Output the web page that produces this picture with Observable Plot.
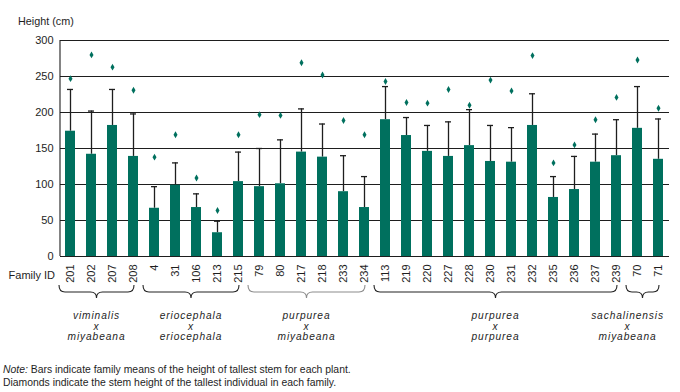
<!DOCTYPE html>
<html>
<head>
<meta charset="utf-8">
<script src="https://cdn.jsdelivr.net/npm/d3@7"></script>
<script src="https://cdn.jsdelivr.net/npm/@observablehq/plot@0.6"></script>
<style>
  html, body { margin: 0; padding: 0; background: #fff; }
  #chart { width: 680px; height: 392px; }
</style>
</head>
<body>
<div id="chart"></div>
<script>
const families = ["201","202","207","208","4","31","106","213","215","79","80","217","218","233","234","113","219","220","227","228","230","231","232","235","236","237","239","70","71"];
const means    = [174,142,182,139,67,99,68,33,104,97,101,145,138,90,68,190,168,146,139,154,132,131,182,82,93,131,140,178,135];
const errTop   = [232,202,232,198,97,130,87,49,145,150,162,205,184,140,111,236,193,182,187,204,182,179,226,111,139,170,190,236,191];
const tallest  = [247,280,263,231,138,169,109,64,169,197,196,269,252,189,169,243,214,213,232,210,245,230,279,130,155,190,221,273,206];
const yTicks = [0,50,100,150,200,250,300];

const groupLabels = [["viminalis","x","miyabeana"],["eriocephala","x","eriocephala"],["purpurea","x","miyabeana"],["purpurea","x","purpurea"],["sachalinensis","x","miyabeana"]];
const groupFirst = ["201","4","79","113","70"];
const groupLast  = ["208","215","234","239","71"];
const groupBraceColor = ["#222","#222","#8c8c8c","#222","#222"];

const yTitle = "Height (cm)";
const xTitle = "Family ID";
const noteItalic = "Note:";
const noteLine1 = " Bars indicate family means of the height of tallest stem for each plant.";
const noteLine2 = "Diamonds indicate the stem height of the tallest individual in each family.";

const rows = families.map((f, i) => ({family: f, mean: means[i], top: errTop[i], tallest: tallest[i]}));

const green = "#00705e";
const ink = "#1e1e1e";
const font = "'Liberation Sans', Arial, Helvetica, sans-serif";

const chart = Plot.plot({
  width: 680,
  height: 392,
  marginTop: 40,
  marginBottom: 136,
  marginLeft: 60,
  marginRight: 11,
  style: {fontFamily: font, fontSize: "11px", color: ink, background: "#fff"},
  x: {domain: families, paddingInner: 0.52, paddingOuter: 0.26, label: null},
  y: {domain: [0, 300], label: null},
  marks: [
    Plot.ruleY(yTicks, {stroke: ink, strokeWidth: 1.1}),
    Plot.ruleX(rows, {x: "family", y1: "mean", y2: "top", stroke: ink, strokeWidth: 1.3}),
    Plot.tickY(rows, {x: "family", y: "top", stroke: ink, strokeWidth: 1.3, insetLeft: 2, insetRight: 2}),
    Plot.barY(rows, {x: "family", y: "mean", fill: green}),
    Plot.dot(rows, {x: "family", y: "tallest", symbol: "diamond", r: 2.1, fill: green, stroke: "none"}),
    Plot.axisY({ticks: yTicks, tickSize: 0, tickPadding: 7, fontSize: 11, label: null}),
    Plot.axisX({tickSize: 0, tickPadding: 8, tickRotate: -90, fontSize: 11, label: null})
  ]
});

document.getElementById("chart").appendChild(chart);

const svg = d3.select(chart);
const xs = chart.scale("x");
const ys = chart.scale("y");
const bw = xs.bandwidth;
const xLeft = xs.range[0];
const yBottom = ys.apply(0);
const yTopV = ys.apply(300);

// left axis line
svg.append("line")
  .attr("x1", xLeft).attr("x2", xLeft)
  .attr("y1", yTopV).attr("y2", yBottom)
  .attr("stroke", ink).attr("stroke-width", 1.1);

// y title
svg.append("text").text(yTitle)
  .attr("x", 18).attr("y", 25).attr("text-anchor", "start")
  .attr("font-family", font).attr("font-size", 10.8).attr("fill", ink);

// x title
svg.append("text").text(xTitle)
  .attr("x", 55).attr("y", 279).attr("text-anchor", "end")
  .attr("font-family", font).attr("font-size", 11).attr("fill", ink);

// braces and group labels
const braceTop = yBottom + 29, braceMid = yBottom + 36, braceTip = yBottom + 42, r = 6;
groupFirst.forEach((f, gi) => {
  const x0 = xs.apply(f) - bw / 2 - 1;
  const x1 = xs.apply(groupLast[gi]) + bw / 2 + 1;
  const xm = (x0 + x1) / 2;
  const p = `M${x0},${braceTop} Q${x0},${braceMid} ${x0 + r},${braceMid} L${xm - r},${braceMid} Q${xm},${braceMid} ${xm},${braceTip} Q${xm},${braceMid} ${xm + r},${braceMid} L${x1 - r},${braceMid} Q${x1},${braceMid} ${x1},${braceTop}`;
  svg.append("path").attr("d", p).attr("fill", "none")
    .attr("stroke", groupBraceColor[gi]).attr("stroke-width", 1.1);
  const g = svg.append("g").attr("font-family", font).attr("font-size", 10.2)
    .attr("letter-spacing", "0.9px")
    .attr("font-style", "italic").attr("fill", ink).attr("text-anchor", "middle");
  const baselines = [319, 329.5, 340];
  groupLabels[gi].forEach((t, li) => {
    g.append("text").text(t).attr("x", xm).attr("y", baselines[li]);
  });
  const bb = g.node().getBBox();
  const maxRight = 664;
  if (bb.x + bb.width > maxRight) {
    g.attr("transform", `translate(${maxRight - (bb.x + bb.width)},0)`);
  }
});

// note
const note = svg.append("g").attr("font-family", font).attr("font-size", 10.4).attr("fill", ink).attr("text-anchor", "start");
const t1 = note.append("text").attr("x", 3).attr("y", 372.5);
t1.append("tspan").attr("font-style", "italic").text(noteItalic);
t1.append("tspan").text(noteLine1);
note.append("text").attr("x", 3).attr("y", 385.5).text(noteLine2);
</script>
</body>
</html>
